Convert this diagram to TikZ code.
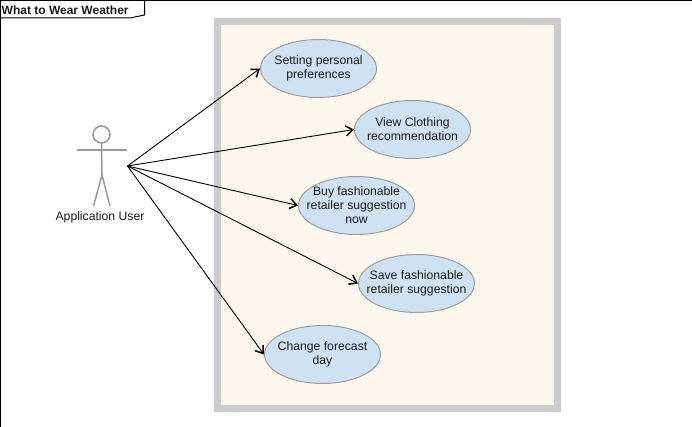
\documentclass[tikz,border=0pt]{standalone}
\usepackage{fontspec}
\setmainfont{Liberation Sans}
\usetikzlibrary{arrows.meta,shapes.geometric}
\definecolor{usecasefill}{HTML}{CFE2F3}
\definecolor{usecaseline}{HTML}{9E9E9E}
\definecolor{systemfill}{HTML}{FBF7EC}
\definecolor{systemline}{HTML}{CCCCCC}
\definecolor{actorline}{HTML}{999999}
\tikzset{
  usecase/.style={ellipse,draw=usecaseline,fill=usecasefill,line width=1pt,minimum width=116pt,minimum height=58pt,inner xsep=-25pt,inner ysep=-15pt,align=center,font=\fontsize{12.2}{14}\selectfont,text=black!90},
  assoc/.style={-{Straight Barb[length=7pt,width=10pt,line width=1.5pt]},line width=0.9pt,black},
  actorpart/.style={draw=actorline,line width=1.5pt},
  plainlabel/.style={inner sep=0pt,font=\fontsize{12.2}{14}\selectfont,text=black!90}
}
\begin{document}
\begin{tikzpicture}[x=1pt,y=-1pt]
\useasboundingbox (0,0) rectangle (692,427);

% frame and its tab
\draw[line width=1pt] (0.5,427) -- (0.5,0.5) -- (692,0.5);
\draw[line width=1pt] (0.5,18) -- (130,18) -- (144.5,15) -- (144.5,0.5);
\node[plainlabel,anchor=west,font=\fontsize{12}{14}\selectfont\bfseries] (title) at (1.5,10.5) {What to Wear Weather};

% system box
\draw[draw=systemline,fill=systemfill,line width=7pt] (217,21.5) rectangle (557.5,408.5);

% actor
\node[circle,actorpart,minimum size=17pt,inner sep=0pt] (head) at (101.5,134.5) {};
\coordinate (hip) at (102,175);
\draw[actorpart] (head.south) -- (hip);
\draw[actorpart] (77,150) -- (127,150);
\draw[actorpart] (93.5,206) -- (hip) -- (110,206);
\node[plainlabel] (user) at (100,217.5) {Application User};
\coordinate (userport) at (127.5,166);

% use cases
\foreach \name/\x/\y/\txt in {
  prefs/318.5/68.5/{Setting personal\\preferences},
  view/412.5/129.5/{View Clothing\\recommendation},
  buy/356.5/205.5/{Buy fashionable\\retailer suggestion\\now},
  save/416.5/283.5/{Save fashionable\\retailer suggestion},
  forecast/322.5/354.5/{Change forecast\\day}}{
  \node[usecase] (\name) at (\x,\y) {\txt};
  \draw[assoc] (userport) -- (\name.west);
}
\end{tikzpicture}
\end{document}
